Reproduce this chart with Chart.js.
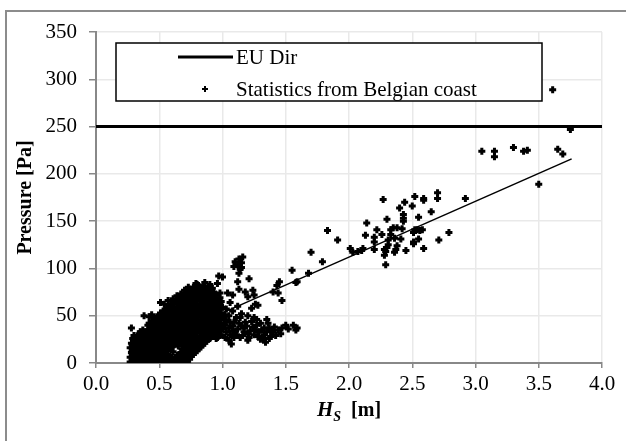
<!DOCTYPE html>
<html>
<head>
<meta charset="utf-8">
<script src="https://cdn.jsdelivr.net/npm/chart.js@4.4.1/dist/chart.umd.min.js"></script>
<style>
  html, body { margin: 0; padding: 0; background: #fff; }
  #wrap { width: 626px; height: 441px; position: relative; }
</style>
</head>
<body>
<div id="wrap"><canvas id="myChart"></canvas></div>
<script>
// axis settings
const hsMin = 0, hsMax = 4, hsStep = 0.5;
const paMin = 0, paMax = 350, paStep = 50;

// EU directive limit (horizontal line)
const euLimit = 250;
const euLineHs = [0, 4];

// linear trend drawn over the measurements (end points)
const trendHs = [0.27, 3.76];
const trendPa = [9.9, 215.8];

// measured [Hs, pressure] pairs - dense low wave part
const obsLowWaves = [
    [0.27,1],[0.27,6],[0.28,11],[0.27,16],[0.28,21],[0.28,37],
    [0.30,3],[0.30,8],[0.31,13],[0.30,18],[0.31,24],[0.30,29],
    [0.33,1],[0.33,6],[0.34,11],[0.33,16],[0.34,21],[0.33,27],[0.34,31],
    [0.36,3],[0.36,9],[0.37,14],[0.36,19],[0.37,25],[0.36,30],[0.37,35],
    [0.39,1],[0.40,6],[0.39,12],[0.40,17],[0.39,22],[0.40,28],[0.39,33],[0.38,50],
    [0.42,4],[0.42,9],[0.43,15],[0.42,20],[0.43,26],[0.42,31],[0.43,37],[0.42,42],[0.42,49],
    [0.45,2],[0.45,7],[0.46,13],[0.45,18],[0.46,24],[0.45,29],[0.46,35],[0.45,40],[0.46,46],[0.44,51],
    [0.48,0],[0.48,5],[0.49,11],[0.48,16],[0.49,22],[0.48,27],[0.49,33],[0.48,38],[0.49,44],[0.48,49],
    [0.51,3],[0.51,8],[0.52,14],[0.51,19],[0.52,25],[0.51,30],[0.52,36],[0.51,41],[0.52,47],[0.51,53],[0.51,64],[0.54,62],
    [0.54,1],[0.54,6],[0.55,12],[0.54,17],[0.55,23],[0.54,28],[0.55,34],[0.54,39],[0.55,45],[0.54,51],[0.55,56],
    [0.57,4],[0.57,9],[0.58,15],[0.57,20],[0.58,26],[0.57,31],[0.58,37],[0.57,42],[0.58,48],[0.57,54],[0.58,59],[0.57,66],
    [0.60,0],[0.60,6],[0.61,12],[0.60,17],[0.61,23],[0.60,28],[0.61,34],[0.60,40],[0.61,45],[0.60,51],[0.61,57],[0.60,62],[0.61,68],
    [0.63,2],[0.64,8],[0.63,20],[0.64,25],[0.63,31],[0.64,37],[0.63,42],[0.64,48],[0.63,54],[0.64,59],[0.63,65],[0.64,71],
    [0.66,0],[0.66,5],[0.67,11],[0.66,22],[0.67,28],[0.66,34],[0.67,39],[0.66,45],[0.67,51],[0.66,56],[0.67,62],[0.66,68],[0.67,73],
    [0.69,3],[0.70,9],[0.69,14],[0.70,20],[0.69,26],[0.70,31],[0.69,37],[0.70,43],[0.69,48],[0.70,54],[0.69,60],[0.70,65],[0.69,71],[0.70,77],
    [0.72,0],[0.72,6],[0.73,12],[0.72,17],[0.73,23],[0.72,29],[0.73,34],[0.72,40],[0.73,46],[0.72,51],[0.73,57],[0.72,63],[0.73,68],[0.72,74],[0.73,80],
    [0.75,8],[0.76,14],[0.75,20],[0.76,25],[0.75,31],[0.76,37],[0.75,42],[0.76,48],[0.75,54],[0.76,59],[0.75,65],[0.76,71],[0.75,76],
    [0.78,11],[0.79,17],[0.78,22],[0.79,28],[0.78,34],[0.79,39],[0.78,45],[0.79,51],[0.78,56],[0.79,62],[0.78,68],[0.79,73],[0.78,79],[0.79,84],
    [0.81,15],[0.82,20],[0.81,26],[0.82,32],[0.81,37],[0.82,43],[0.81,49],[0.82,54],[0.81,60],[0.82,66],[0.81,71],[0.82,77],[0.81,82],
    [0.84,19],[0.85,25],[0.84,30],[0.85,36],[0.84,42],[0.85,47],[0.84,53],[0.85,59],[0.84,64],[0.85,70],[0.84,76],[0.85,81],[0.86,85],
    [0.87,23],[0.88,28],[0.87,34],[0.88,40],[0.87,45],[0.88,51],[0.87,57],[0.88,62],[0.87,68],[0.88,74],[0.87,79],
    [0.90,26],[0.91,32],[0.90,38],[0.91,43],[0.90,49],[0.91,55],[0.90,60],[0.91,66],[0.90,72],[0.91,78],[0.90,83],
    [0.93,29],[0.94,35],[0.93,41],[0.94,46],[0.93,52],[0.94,58],[0.93,63],[0.94,69],[0.93,75],
    [0.96,27],[0.97,33],[0.96,39],[0.97,44],[0.96,50],[0.97,56],[0.96,61],[0.97,67],[0.96,84],[0.97,92],
    [0.99,30],[1.00,36],[0.99,42],[1.00,48],[0.99,53],[1.00,59],[0.99,65],[1.00,91],[0.98,74]
];

// more measurements in the same dense part
const obsLowWavesB = [
    [0.29,4],[0.29,9],[0.29,14],[0.29,19],[0.29,26],
    [0.32,0],[0.32,5],[0.32,10],[0.32,15],[0.32,21],[0.32,26],
    [0.35,3],[0.35,8],[0.35,13],[0.35,18],[0.35,24],[0.35,29],[0.35,33],
    [0.38,0],[0.38,6],[0.38,11],[0.38,16],[0.38,22],[0.38,27],[0.38,32],
    [0.41,2],[0.41,8],[0.41,13],[0.41,18],[0.41,24],[0.41,29],[0.41,35],[0.41,40],
    [0.44,0],[0.44,5],[0.44,11],[0.44,16],[0.44,22],[0.44,27],[0.44,33],[0.44,38],[0.44,44],
    [0.47,3],[0.47,9],[0.47,14],[0.47,20],[0.47,25],[0.47,31],[0.47,36],[0.47,42],[0.47,47],
    [0.50,1],[0.50,6],[0.50,12],[0.50,17],[0.50,23],[0.50,28],[0.50,34],[0.50,39],[0.50,45],[0.50,50],
    [0.53,4],[0.53,10],[0.53,15],[0.53,21],[0.53,26],[0.53,32],[0.53,37],[0.53,43],[0.53,49],[0.53,55],
    [0.56,2],[0.56,7],[0.56,13],[0.56,18],[0.56,24],[0.56,29],[0.56,35],[0.56,41],[0.56,46],[0.56,52],[0.56,58],
    [0.59,0],[0.59,5],[0.59,16],[0.59,22],[0.59,27],[0.59,33],[0.59,39],[0.59,44],[0.59,50],[0.59,56],[0.59,62],
    [0.62,3],[0.62,20],[0.62,26],[0.62,31],[0.62,37],[0.62,42],[0.62,48],[0.62,54],[0.62,59],[0.62,65],
    [0.65,1],[0.65,6],[0.65,18],[0.65,23],[0.65,29],[0.65,34],[0.65,40],[0.65,46],[0.65,51],[0.65,57],[0.65,63],[0.65,69],
    [0.68,4],[0.68,10],[0.68,15],[0.68,21],[0.68,27],[0.68,32],[0.68,38],[0.68,44],[0.68,49],[0.68,55],[0.68,61],[0.68,66],[0.68,72],
    [0.71,1],[0.71,7],[0.71,13],[0.71,18],[0.71,24],[0.71,30],[0.71,35],[0.71,41],[0.71,47],[0.71,52],[0.71,58],[0.71,64],[0.71,69],[0.71,75],
    [0.74,4],[0.74,10],[0.74,16],[0.74,21],[0.74,27],[0.74,33],[0.74,38],[0.74,44],[0.74,50],[0.74,55],[0.74,61],[0.74,67],[0.74,72],[0.74,78],
    [0.77,9],[0.77,13],[0.77,19],[0.77,24],[0.77,30],[0.77,36],[0.77,41],[0.77,47],[0.77,53],[0.77,58],[0.77,64],[0.77,70],[0.77,75],[0.77,80],
    [0.80,13],[0.80,17],[0.80,22],[0.80,28],[0.80,34],[0.80,39],[0.80,45],[0.80,51],[0.80,56],[0.80,62],[0.80,68],[0.80,73],[0.80,79],[0.80,83],
    [0.83,17],[0.83,23],[0.83,28],[0.83,34],[0.83,40],[0.83,45],[0.83,51],[0.83,57],[0.83,62],[0.83,68],[0.83,74],[0.83,79],
    [0.86,21],[0.86,27],[0.86,32],[0.86,38],[0.86,44],[0.86,49],[0.86,55],[0.86,61],[0.86,66],[0.86,72],[0.86,78],
    [0.89,25],[0.89,30],[0.89,36],[0.89,42],[0.89,47],[0.89,53],[0.89,59],[0.89,64],[0.89,70],[0.89,76],[0.89,81],
    [0.92,28],[0.92,34],[0.92,40],[0.92,45],[0.92,51],[0.92,57],[0.92,62],[0.92,68],[0.92,74],[0.92,79],
    [0.95,26],[0.95,32],[0.95,38],[0.95,43],[0.95,49],[0.95,55],[0.95,60],[0.95,66],[0.95,72],
    [0.98,29],[0.98,35],[0.98,41],[0.98,46],[0.98,52],[0.98,58],[0.98,63],[0.98,69]
];

// measured pairs - tail between 1.0 and 1.6 m
const obsMidWaves = [
    [1.02,27],[1.03,33],[1.02,40],[1.03,45],[1.02,51],[1.03,57],[1.04,74],
    [1.05,24],[1.06,30],[1.05,37],[1.06,43],[1.05,50],[1.06,64],
    [1.07,20],[1.09,27],[1.08,34],[1.09,43],[1.08,55],[1.08,72],[1.08,39],
    [1.11,30],[1.12,36],[1.11,48],[1.12,60],[1.12,86],[1.10,33],
    [1.14,27],[1.14,48],[1.15,39],[1.15,52],[1.13,78],[1.13,95],[1.13,42],
    [1.17,33],[1.18,43],[1.18,75],[1.16,29],[1.17,37],
    [1.20,24],[1.20,31],[1.19,39],[1.21,27],[1.20,70],[1.21,89],[1.23,58],[1.20,50],
    [1.24,38],[1.25,30],[1.24,77],[1.25,72],[1.22,34],[1.23,44],[1.25,48],
    [1.27,40],[1.27,46],[1.26,62],[1.28,61],[1.26,35],[1.28,28],
    [1.29,33],[1.30,42],[1.30,25],[1.31,35],[1.32,27],
    [1.33,30],[1.33,37],[1.34,22],[1.35,33],[1.35,46],
    [1.36,42],[1.37,26],[1.37,37],[1.38,28],
    [1.39,34],[1.40,33],[1.42,29],[1.41,38],
    [1.44,35],[1.47,37],[1.50,40],[1.46,31],[1.52,36],
    [1.58,35],[1.59,37],[1.56,40],
    [1.09,102],[1.10,107],[1.12,104],[1.13,110],[1.15,106],[1.16,112],[1.14,99],[1.15,101]
];

// measured pairs - storms above 1.4 m
const obsHighWaves = [
    [1.40,75],[1.43,82],[1.45,86],[1.44,74],[1.47,66],[1.58,85],[1.59,86],[1.55,98],
    [1.68,95],[1.70,117],[1.79,107],[1.83,140],[1.91,130],
    [2.01,121],[2.03,117],[2.07,118],[2.10,119],[2.11,121],[2.13,135],[2.14,148],
    [2.20,120],[2.20,133],[2.20,128],[2.22,141],[2.26,136],[2.27,173],
    [2.28,114],[2.29,118],[2.30,122],[2.29,104],[2.28,120],[2.30,152],[2.31,130],[2.31,125],
    [2.33,136],[2.33,141],[2.36,132],[2.35,143],[2.36,117],[2.37,120],[2.38,124],[2.38,143],
    [2.40,164],[2.41,131],[2.42,142],[2.43,157],[2.43,153],[2.43,150],[2.44,170],[2.45,119],
    [2.50,166],[2.51,128],[2.51,126],[2.51,138],[2.52,141],[2.52,176],[2.54,141],[2.55,131],
    [2.55,154],[2.56,140],[2.58,141],[2.59,121],[2.59,174],[2.59,172],[2.65,160],
    [2.70,180],[2.70,174],[2.71,130],[2.79,138],[2.92,174],
    [3.05,224],[3.15,224],[3.15,218],[3.30,228],[3.38,224],[3.41,225],[3.50,189],
    [3.61,289],[3.65,226],[3.69,221],[3.75,247]
];

const serif = "'Liberation Serif', 'Times New Roman', serif";
const allObs = obsLowWaves.concat(obsLowWavesB, obsMidWaves, obsHighWaves);

// frame, legend box and axis titles
const framePlugin = {
    id: 'frame',
    beforeDraw(chart) {
        const c = chart.ctx;
        c.save();
        c.fillStyle = '#fff';
        c.fillRect(0, 0, chart.width, chart.height);
        c.strokeStyle = '#8c8c8c';
        c.lineWidth = 2;
        c.strokeRect(6, 11, chart.width + 10, chart.height + 10);
        c.restore();
    },
    afterDraw(chart) {
        const c = chart.ctx;
        const area = chart.chartArea;
        c.save();
        // legend
        c.fillStyle = '#fff';
        c.fillRect(116, 43, 426, 58);
        c.strokeStyle = '#000';
        c.lineWidth = 1.5;
        c.strokeRect(116, 43, 426, 58);
        c.lineWidth = 3;
        c.beginPath();
        c.moveTo(178, 57);
        c.lineTo(233, 57);
        c.stroke();
        c.lineWidth = 2;
        c.beginPath();
        c.moveTo(202, 89); c.lineTo(208, 89);
        c.moveTo(205, 86); c.lineTo(205, 92);
        c.stroke();
        c.fillStyle = '#000';
        c.font = '21px ' + serif;
        c.textBaseline = 'middle';
        c.textAlign = 'left';
        c.fillText('EU Dir', 236, 58);
        c.fillText('Statistics from Belgian coast', 236, 90);

        // y title
        c.save();
        c.translate(26, (area.top + area.bottom) / 2);
        c.rotate(-Math.PI / 2);
        c.textAlign = 'center';
        c.font = 'bold 20px ' + serif;
        c.fillText('Pressure [Pa]', 0, 0);
        c.restore();

        // x title with subscript
        const fH = 'italic bold 21px ' + serif;
        const fS = 'italic bold 14px ' + serif;
        const fM = 'bold 20px ' + serif;
        c.font = fH; const wH = c.measureText('H').width;
        c.font = fS; const wS = c.measureText('S').width;
        c.font = fM; const wM = c.measureText('  [m]').width;
        let x = (area.left + area.right) / 2 - (wH + wS + wM) / 2;
        const base = 416;
        c.textBaseline = 'alphabetic';
        c.textAlign = 'left';
        c.font = fH; c.fillText('H', x, base); x += wH;
        c.font = fS; c.fillText('S', x, base + 5); x += wS;
        c.font = fM; c.fillText('  [m]', x, base);
        c.restore();
    }
};

const ctx = document.getElementById('myChart');

new Chart(ctx, {
    type: 'scatter',
    data: {
        datasets: [
            {
                label: 'EU Dir',
                type: 'line',
                data: euLineHs.map(h => ({ x: h, y: euLimit })),
                borderColor: '#000',
                borderWidth: 3,
                pointRadius: 0
            },
            {
                label: 'Trend',
                type: 'line',
                data: trendHs.map((h, i) => ({ x: h, y: trendPa[i] })),
                borderColor: '#000',
                borderWidth: 1.5,
                pointRadius: 0
            },
            {
                label: 'Statistics from Belgian coast',
                data: allObs.map(p => ({ x: p[0], y: p[1] })),
                pointStyle: 'cross',
                pointRadius: 3.5,
                borderWidth: 3,
                borderColor: '#000',
                backgroundColor: '#000'
            }
        ]
    },
    options: {
        responsive: true,
        maintainAspectRatio: false,
        animation: false,
        layout: { padding: { top: 32, right: 24, bottom: 0, left: 0 } },
        plugins: {
            legend: { display: false },
            tooltip: { enabled: false }
        },
        scales: {
            x: {
                type: 'linear',
                min: hsMin,
                max: hsMax,
                ticks: {
                    stepSize: hsStep,
                    callback: v => v.toFixed(1),
                    color: '#000',
                    font: { family: serif, size: 21 },
                    padding: 4
                },
                grid: { color: '#e9e9e9', lineWidth: 1.5, tickColor: '#888', tickLength: 5 },
                border: { color: '#888', width: 2 },
                afterFit: s => { s.height = 78; }
            },
            y: {
                min: paMin,
                max: paMax,
                ticks: {
                    stepSize: paStep,
                    color: '#000',
                    font: { family: serif, size: 21 },
                    padding: 12
                },
                grid: { color: '#e9e9e9', lineWidth: 1.5, tickColor: '#888', tickLength: 7 },
                border: { color: '#888', width: 2 },
                afterFit: s => { s.width = 96; }
            }
        }
    },
    plugins: [framePlugin]
});
</script>
</body>
</html>
